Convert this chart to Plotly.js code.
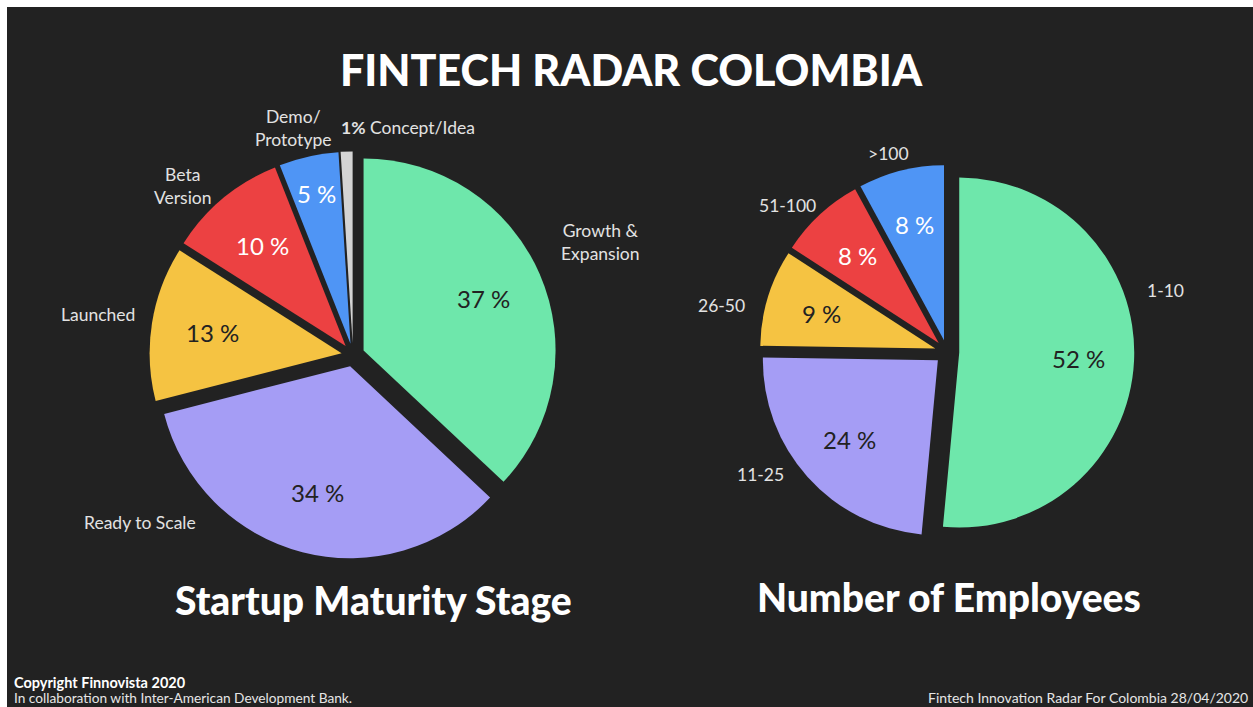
<!DOCTYPE html>
<html>
<head>
<meta charset="utf-8">
<script src="https://cdn.plot.ly/plotly-3.0.1.min.js"></script>
<style>
html,body{margin:0;padding:0;background:#ffffff;width:1253px;height:707px;overflow:hidden;}
#chart{position:absolute;left:7px;top:7px;width:1246px;height:700px;}
</style>
</head>
<body>
<div id="chart"></div>
<script>
// ---- data ----
const maturityLabels = ["Growth & Expansion", "Ready to Scale", "Launched", "Beta Version", "Demo/Prototype", "Concept/Idea"];
const maturityValues = [37, 34, 13, 10, 5, 1];
const employeeLabels = ["1-10", "11-25", "26-50", "51-100", ">100"];
const employeeValues = [52, 24, 9, 8, 8];

const mainTitle = "FINTECH RADAR COLOMBIA";
const subTitle1 = "Startup Maturity Stage";
const subTitle2 = "Number of Employees";

// ---- style / layout ----
const W = 1246, H = 700, OX = 7, OY = 7;
const px = x => (x - OX) / W;
const py = y => 1 - (y - OY) / H;
function domainFor(cx, cy, half) {
  return { x: [px(cx - half), px(cx + half)], y: [py(cy + half), py(cy - half)] };
}
const C_GREEN = "#6ee7ab", C_PURPLE = "#a59df5", C_YELLOW = "#f5c342",
      C_RED = "#ec4142", C_BLUE = "#4f95f5", C_GRAY = "#d4d4d4";
const BASE = "Lato, 'Open Sans', sans-serif";

const P1 = { cx: 353, cy: 355, r: 192, pull: 0.06, textR: [0.68, 0.68, 0.68, 0.68, 0.8, 0.68] };
const P2 = { cx: 947, cy: 352, r: 175, pull: 0.07, textR: [0.68, 0.68, 0.68, 0.68, 0.68] };

const pie1 = {
  type: "pie", values: maturityValues, labels: maturityLabels,
  sort: false, direction: "clockwise", rotation: 0,
  pull: maturityValues.map(() => P1.pull),
  marker: { colors: [C_GREEN, C_PURPLE, C_YELLOW, C_RED, C_BLUE, C_GRAY], line: { width: 0 } },
  textinfo: "none",
  domain: domainFor(P1.cx, P1.cy, P1.r * (1 + P1.pull)),
  showlegend: false, hoverinfo: "label+percent"
};
const pie2 = {
  type: "pie", values: employeeValues, labels: employeeLabels,
  sort: false, direction: "clockwise", rotation: 0,
  pull: employeeValues.map(() => P2.pull),
  marker: { colors: [C_GREEN, C_PURPLE, C_YELLOW, C_RED, C_BLUE], line: { width: 0 } },
  textinfo: "none",
  domain: domainFor(P2.cx, P2.cy, P2.r * (1 + P2.pull)),
  showlegend: false, hoverinfo: "label+percent"
};

// percentage text placed along each slice's bisector (computed from the values)
function pctAnnots(values, P, colors, skip) {
  const total = values.reduce((a, b) => a + b, 0);
  let cum = 0; const out = [];
  values.forEach((v, i) => {
    const mid = (cum + v / 2) / total * 2 * Math.PI; cum += v;
    if (skip.includes(i)) return;
    const sx = Math.sin(mid), sy = -Math.cos(mid);
    const d = P.r * P.pull + P.r * P.textR[i];
    out.push({ text: v + " %", x: px(P.cx + sx * d), y: py(P.cy + sy * d), xref: "paper", yref: "paper",
               xanchor: "center", yanchor: "middle", showarrow: false,
               font: { family: BASE, size: 24, color: colors[i] } });
  });
  return out;
}

const LBL = { family: BASE, size: 17.5, color: "#e2e2e2" };
function lab(text, x, y, anchor) {
  return { text: text, x: px(x), y: py(y), xref: "paper", yref: "paper",
           xanchor: anchor || "center", yanchor: "middle", showarrow: false, font: LBL, align: "center" };
}
const annotations = [
  ...pctAnnots(maturityValues, P1, ["#222222", "#222222", "#222222", "#ffffff", "#ffffff", "#222222"], [5]),
  ...pctAnnots(employeeValues, P2, ["#222222", "#222222", "#222222", "#ffffff", "#ffffff"], []),
  lab("Growth &amp;<br>Expansion", 600, 242),
  lab("Ready to Scale", 140, 522),
  lab("Launched", 98, 314),
  lab("Beta<br>Version", 183, 186),
  lab("Demo/<br>Prototype", 293, 128),
  lab("<b>1%</b> Concept/Idea", 339, 128, "left"),
  lab("1-10", 1165, 290),
  lab("11-25", 760, 474),
  lab("26-50", 721, 305),
  lab("51-100", 787, 206),
  lab("&gt;100", 889, 153),
  { text: subTitle1, x: px(373), y: py(600), xref: "paper", yref: "paper", showarrow: false,
    xanchor: "center", yanchor: "middle", font: { family: BASE, size: 39, weight: 900, color: "#ffffff" } },
  { text: subTitle2, x: px(949), y: py(597), xref: "paper", yref: "paper", showarrow: false,
    xanchor: "center", yanchor: "middle", font: { family: BASE, size: 39, weight: 900, color: "#ffffff" } },
  { text: "<b>Copyright Finnovista 2020</b>", x: px(12), y: py(682), xref: "paper", yref: "paper", showarrow: false,
    xanchor: "left", yanchor: "middle", font: { family: BASE, size: 14.5, color: "#ffffff" } },
  { text: "In collaboration with Inter-American Development Bank.", x: px(12), y: py(697), xref: "paper", yref: "paper", showarrow: false,
    xanchor: "left", yanchor: "middle", font: { family: BASE, size: 13.7, color: "#e6e6e6" } },
  { text: "Fintech Innovation Radar For Colombia 28/04/2020", x: px(1250), y: py(697), xref: "paper", yref: "paper", showarrow: false,
    xanchor: "right", yanchor: "middle", font: { family: BASE, size: 14, color: "#e6e6e6" } }
];

const layout = {
  width: W, height: H,
  margin: { l: 0, r: 0, t: 0, b: 0 },
  paper_bgcolor: "#222222", plot_bgcolor: "#222222",
  title: { text: mainTitle, x: px(631), y: py(71), xref: "paper", yref: "paper", xanchor: "center", yanchor: "middle",
           font: { family: BASE, size: 43, weight: 900, color: "#ffffff" } },
  annotations: annotations,
  showlegend: false
};

Plotly.newPlot("chart", [pie1, pie2], layout, { displayModeBar: false, staticPlot: true });
</script>
</body>
</html>
